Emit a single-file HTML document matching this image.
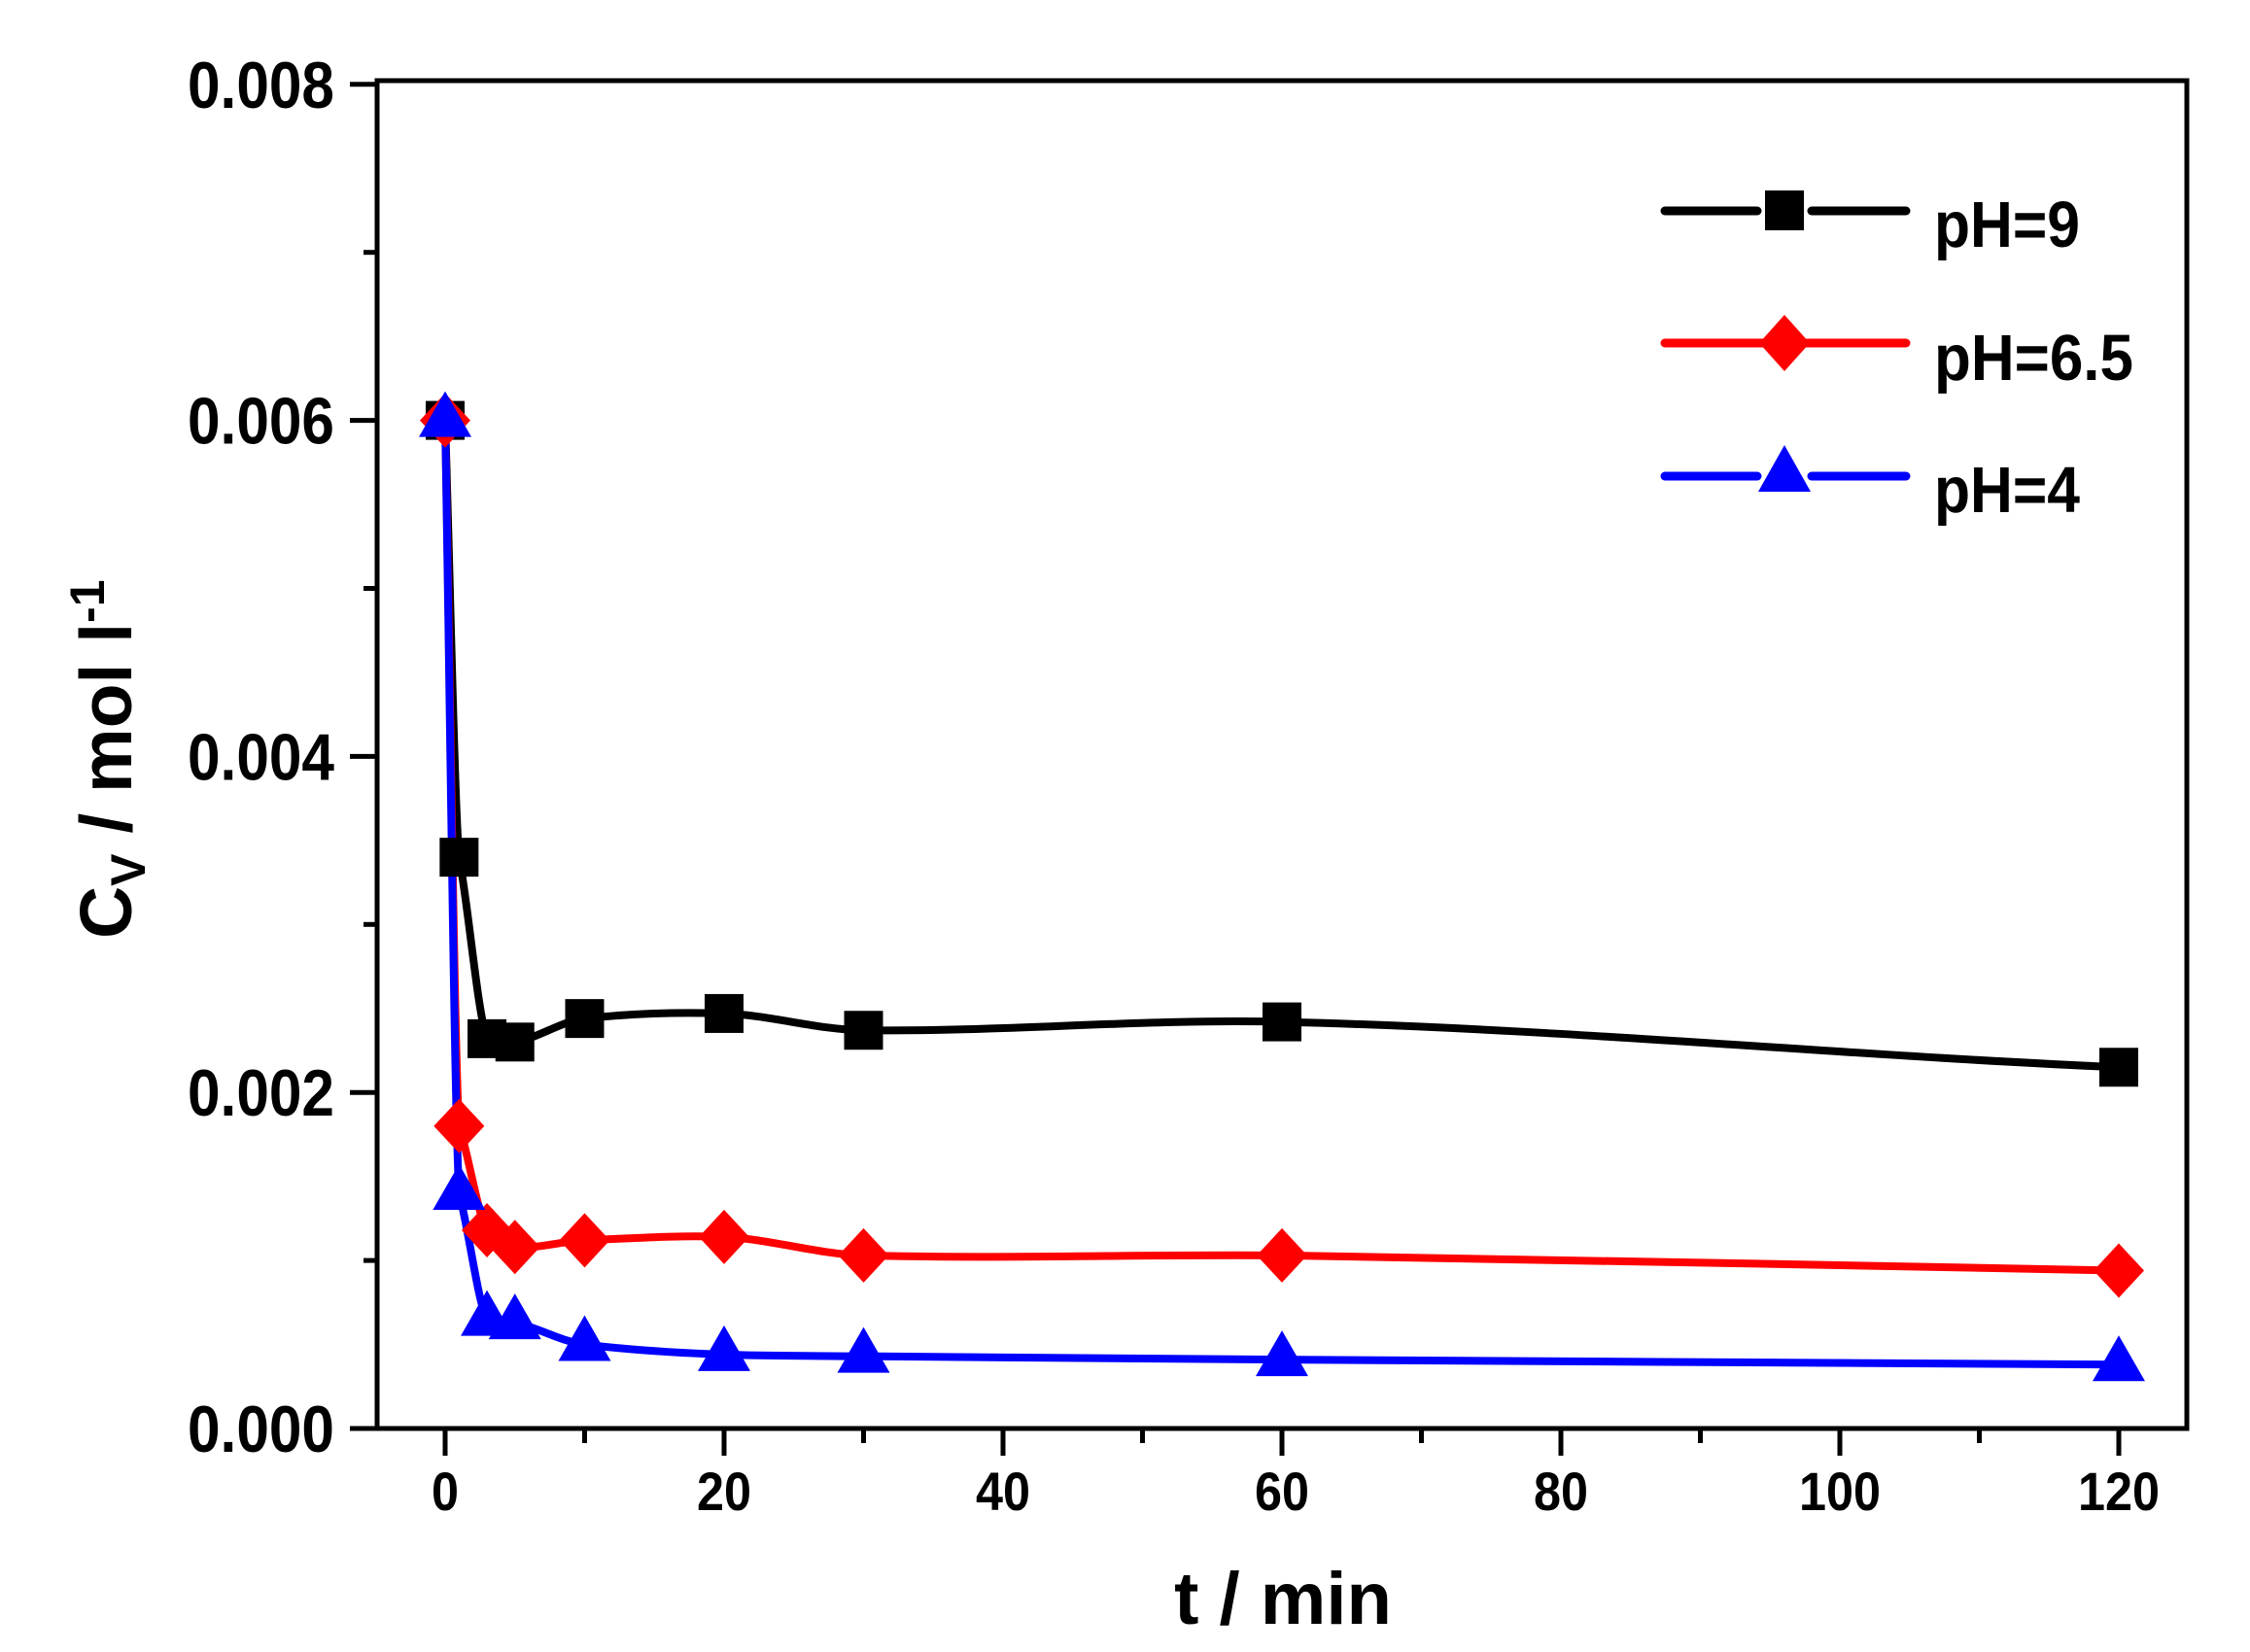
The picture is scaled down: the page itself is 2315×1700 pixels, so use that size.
<!DOCTYPE html>
<html><head><meta charset="utf-8"><style>
html,body{margin:0;padding:0;background:#fff}
svg{display:block}
text{font-family:"Liberation Sans",Arial,sans-serif;font-weight:bold;fill:#000}
</style></head><body>
<svg id="s" width="2315" height="1700" viewBox="0 0 2315 1700" xmlns="http://www.w3.org/2000/svg">
<g id="curves" fill="none" stroke-width="8" stroke-linejoin="round" stroke-linecap="round"></g>
<g id="marks"></g>
<rect x="388" y="83" width="1862" height="1387" fill="none" stroke="#000" stroke-width="5"/>
<g id="ticks" stroke="#000" stroke-width="5"></g>
<g id="labels"></g>
<text x="1320" y="1671" font-size="76" text-anchor="middle">t / min</text>
<text transform="translate(135,966) rotate(-90)" font-size="75">C<tspan font-size="50" dy="14">V</tspan><tspan dy="-14"> / mol l</tspan><tspan font-size="50" dy="-28">-1</tspan></text>
<g stroke-width="9" stroke-linecap="round">
<line x1="1713" y1="217" x2="1808" y2="217" stroke="#000"/><line x1="1864" y1="217" x2="1961" y2="217" stroke="#000"/>
<line x1="1713" y1="353" x2="1961" y2="353" stroke="#f00"/>
<line x1="1713" y1="490" x2="1808" y2="490" stroke="#00f"/><line x1="1864" y1="490" x2="1961" y2="490" stroke="#00f"/>
</g>
<rect x="1816" y="196" width="40" height="41" fill="#000"/>
<polygon points="1836,324 1862,353 1836,382 1810,353" fill="#f00"/>
<polygon points="1836,458 1863,506 1809,506" fill="#00f"/>
<text x="1990" y="254" font-size="67" textLength="150" lengthAdjust="spacingAndGlyphs">pH=9</text>
<text x="1990" y="391" font-size="67" textLength="205" lengthAdjust="spacingAndGlyphs">pH=6.5</text>
<text x="1990" y="527" font-size="67" textLength="150" lengthAdjust="spacingAndGlyphs">pH=4</text>
</svg>
<script>
var NS="http://www.w3.org/2000/svg";
function X(t){return 458+14.35*t}
function Y(v){return 1470-172.9*v}
var T=[0,1,3,5,10,20,30,60,120];
var S=[
 {c:"#000",m:"sq",v:[6,3.4,2.32,2.30,2.44,2.47,2.37,2.42,2.15]},
 {c:"#f00",m:"di",v:[6,1.8,1.18,1.08,1.12,1.14,1.03,1.03,0.94]},
 {c:"#00f",m:"tr",v:[6,1.40,0.65,0.63,0.50,0.44,0.43,0.41,0.38]}
];
function el(n,a,p){var e=document.createElementNS(NS,n);for(var k in a)e.setAttribute(k,a[k]);p.appendChild(e);return e}
var cg=document.getElementById("curves"),mg=document.getElementById("marks");
S.forEach(function(s){
 var P=T.map(function(t,i){return [X(t),Y(s.v[i])]});
 var d="M"+P[0][0]+","+P[0][1];
 for(var i=0;i<P.length-1;i++){
  var p0=P[i-1]||P[i],p1=P[i],p2=P[i+1],p3=P[i+2]||P[i+1];
  var dx=(p2[0]-p1[0])/3;
  var m1=(p2[1]-p0[1])/Math.max(p2[0]-p0[0],1), m2=(p3[1]-p1[1])/Math.max(p3[0]-p1[0],1);
  var sl=(p2[1]-p1[1])/(p2[0]-p1[0]);
  if(i>0 && Math.abs(m1)>Math.abs(sl)*2+0.5) m1=sl;
  var c1=[p1[0]+dx,p1[1]+m1*dx*0.8];
  var c2=[p2[0]-dx,p2[1]-m2*dx*0.8];
  if(i==0){c1=[p1[0]+dx,p1[1]+(p2[1]-p1[1])/3];}
  d+=" C"+c1+" "+c2+" "+p2;
 }
 el("path",{d:d,stroke:s.c},cg);
});
S.forEach(function(s){
 T.forEach(function(t,i){
  var x=X(t),y=Y(s.v[i]);
  if(s.m=="sq")el("rect",{x:x-20,y:y-20,width:40,height:40,fill:s.c},mg);
  else if(s.m=="di")el("polygon",{points:[x,y-28,x+26,y,x,y+28,x-26,y].join(","),fill:s.c},mg);
  else el("polygon",{points:[x,y-30,x+27,y+17,x-27,y+17].join(","),fill:s.c},mg);
 });
});
var tg=document.getElementById("ticks"),lg=document.getElementById("labels");
for(var t=0;t<=120;t+=10){
 var x=X(t),major=t%20==0;
 el("line",{x1:x,y1:1470,x2:x,y2:major?1498:1485},tg);
 if(major){var tx=el("text",{x:x,y:1554,"font-size":56,"text-anchor":"middle"},lg);tx.textContent=t;
  tx.setAttribute("textLength",(""+t).length*28);tx.setAttribute("lengthAdjust","spacingAndGlyphs");}
}
for(var v=0;v<=8;v++){
 var y=Y(v),major=v%2==0;
 el("line",{x1:388,y1:y,x2:major?360:374,y2:y},tg);
 if(major){var tx=el("text",{x:344,y:y+24,"font-size":68,"text-anchor":"end",textLength:151,lengthAdjust:"spacingAndGlyphs"},lg);tx.textContent="0.00"+v;}
}
</script>
</body></html>
